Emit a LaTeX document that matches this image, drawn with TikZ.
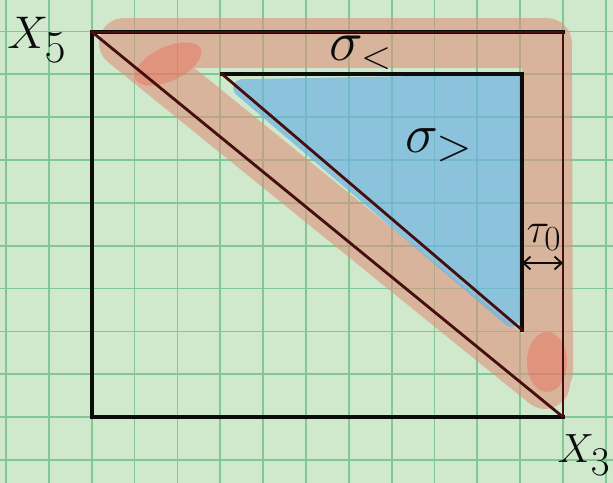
\documentclass[tikz,border=0pt]{standalone}
\usetikzlibrary{arrows.meta}
\begin{document}
\begin{tikzpicture}[x=0.03cm,y=-0.03cm]
\definecolor{paper}{RGB}{208,233,205}
\definecolor{gridc}{RGB}{128,200,148}
\definecolor{band}{RGB}{220,145,122}
\definecolor{blob}{RGB}{235,110,90}
\definecolor{bluefill}{RGB}{111,179,227}
\definecolor{ink}{RGB}{12,12,12}
\definecolor{brownink}{RGB}{70,14,14}
\tikzset{
  gridline/.style={gridc, line width=1.5pt},
  blackedge/.style={ink, line width=2.9pt, line cap=rect},
  brownedge/.style={brownink, line width=2.4pt, line cap=rect},
  bandstroke/.style={band, line width=42.5pt, line cap=round, line join=round},
  blobfill/.style={blob, opacity=0.45},
  bluestyle/.style={draw=bluefill, fill=bluefill, line width=15pt, line join=round},
  lbl/.style={inner sep=0pt, text=ink, transform shape, font=\Huge},
  dim/.style={{Straight Barb[length=6pt,width=11pt]}-{Straight Barb[length=6pt,width=11pt]}, ink, line width=1.6pt}
}
\fill[paper] (0,0) rectangle (613,483);
\useasboundingbox (0,0) rectangle (613,483);
\foreach \k in {0,...,14} \draw[gridline] ({6+42.85*\k},0) -- ({6+42.85*\k},483);
\foreach \k in {0,...,10} \draw[gridline] (0,{31.5+42.85*\k}) -- (613,{31.5+42.85*\k});
% corners
\coordinate (TL) at (92,32);
\coordinate (TR) at (563,32);
\coordinate (BR) at (563,417);
\coordinate (BL) at (92,417);
\coordinate (ia) at (222,74);
\coordinate (ib) at (522,74);
\coordinate (ic) at (522,330);
% red band
\begin{scope}[transparency group, opacity=0.6]
\draw[bandstroke] (548,372) -- (547,43) -- (124,43) -- (545,384);
\end{scope}
\fill[blobfill, rotate around={25:(168,64)}] (168,64) ellipse [x radius=36, y radius=17];
\fill[blobfill] (547,362) ellipse [x radius=20, y radius=30];
% blue region
\begin{scope}[transparency group, opacity=0.7]
\path[bluestyle] (242,88) -- (513,83) -- (511,318) -- cycle;
\end{scope}
% outer square and diagonal
\draw[blackedge] (BR) -- (BL) -- (TL) -- (TR);
\draw[brownedge] (TL) -- (TR);
\draw[brownedge] (TR) -- (BR);
\draw[brownedge] (TL) -- (BR);
% inner triangle
\draw[blackedge, line width=2.6pt] (ia) -- (ib);
\draw[ink, line width=2.6pt, line cap=rect] (ib) -- (ic);
\draw[brownedge] (ic) -- (ia);
% labels
\node[lbl, scale=1.57] (x5) at (37,40) {$X_{\textstyle 5}$};
\node[lbl, scale=1.4] (x3) at (584,455) {$X_{\textstyle 3}$};
\node[lbl, scale=1.95] (slt) at (361,53) {$\sigma_{\scriptscriptstyle <}$};
\node[lbl, scale=1.9] (sgt) at (439,145) {$\sigma_{>}$};
\node[lbl, scale=1.45] (tau) at (544,237) {$\tau_0$};
% dimension arrow
\coordinate (da) at (522,263);
\coordinate (db) at (563,263);
\draw[dim] (da) -- (db);
\end{tikzpicture}
\end{document}
